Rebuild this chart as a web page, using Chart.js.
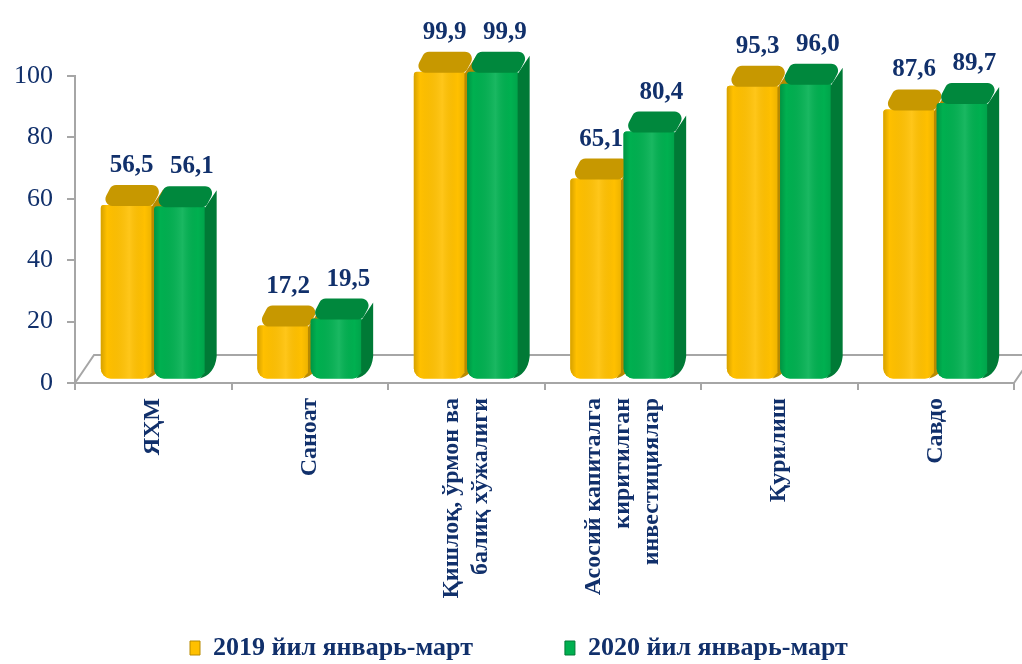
<!DOCTYPE html>
<html>
<head>
<meta charset="utf-8">
<script src="https://cdn.jsdelivr.net/npm/chart.js@4.4.1/dist/chart.umd.min.js"></script>
<style>
html,body{margin:0;padding:0;background:#ffffff;}
#wrap{width:1022px;height:664px;position:relative;}
</style>
</head>
<body>
<div id="wrap"><canvas id="c" width="1022" height="664"></canvas></div>
<script>
// ---- data ----
const categories = [
  ['ЯҲМ'],
  ['Саноат'],
  ['Қишлоқ, ўрмон ва', 'балиқ хўжалиги'],
  ['Асосий капиталга', 'киритилган', 'инвестициялар'],
  ['Қурилиш'],
  ['Савдо']
];
const seriesNames = ['2019 йил январь-март', '2020 йил январь-март'];
const values2019 = [56.5, 17.2, 99.9, 65.1, 95.3, 87.6];
const values2020 = [56.1, 19.5, 99.9, 80.4, 96.0, 89.7];
const yTicks = [0, 20, 40, 60, 80, 100];

// ---- styles ----
const NAVY = '#11306B';
const GRAY = '#A6A6A6';
const SERIF = "'Liberation Serif', 'Times New Roman', serif";
const DX = 11, DY = 20;
const styles = [
  {front: '#FFC000', cap: '#C79800', side: '#B88A00', labelDx: 5},
  {front: '#00B050', cap: '#00883D', side: '#007A36', labelDx: 12}
];
const fmt = v => v.toFixed(1).replace('.', ',');

function roundPoly(ctx, pts, rad) {
  const n = pts.length;
  const a = pts[n - 1], b = pts[0];
  ctx.beginPath();
  ctx.moveTo((a.x + b.x) / 2, (a.y + b.y) / 2);
  for (let i = 0; i < n; i++) {
    const p = pts[i], q = pts[(i + 1) % n];
    ctx.arcTo(p.x, p.y, q.x, q.y, rad);
  }
  ctx.closePath();
}

const floorPlugin = {
  id: 'floor3d',
  beforeDatasetsDraw(chart) {
    const a = chart.chartArea, ctx = chart.ctx;
    ctx.save();
    ctx.strokeStyle = GRAY;
    ctx.lineWidth = 2;
    ctx.beginPath();
    ctx.moveTo(a.left, a.bottom);
    ctx.lineTo(a.left + 19, a.bottom - 28);
    ctx.lineTo(a.right + 19, a.bottom - 28);
    ctx.lineTo(a.right, a.bottom);
    ctx.stroke();
    ctx.restore();
  }
};

const labelFixPlugin = {
  id: 'labelFix',
  beforeDraw(chart) {
    const sc = chart.scales.x;
    const items = sc.getLabelItems();
    if (items._patched) return;
    items.forEach(it => {
      const n = Array.isArray(it.label) ? it.label.length : 1;
      const lh = it.font.lineHeight;
      it.options.translation[0] -= (n - 1) * lh / 2;
    });
    items._patched = true;
  }
};

const legendPosPlugin = {
  id: 'legendPos',
  afterLayout(chart) {
    const lg = chart.legend;
    const pad = lg.options.labels.padding;
    lg.left = 190 - pad;
    lg.right = 1022;
    lg.top = 648 - pad - 13;
    lg.bottom = 664;
    lg.width = lg.right - lg.left;
    lg.height = lg.bottom - lg.top;
  }
};

const bars3dPlugin = {
  id: 'bars3d',
  afterDatasetsDraw(chart) {
    const ctx = chart.ctx;
    chart.data.datasets.forEach((ds, d) => {
      const meta = chart.getDatasetMeta(d);
      const st = styles[d];
      meta.data.forEach((el, i) => {
        const p = el.getProps(['x', 'y', 'base', 'width'], true);
        const l = p.x - p.width / 2, r = p.x + p.width / 2, t = p.y, b = p.base;
        ctx.save();
        // front face (library element) redrawn for correct overlap
        el.draw(ctx);
        // shading overlay on front face
        const g = ctx.createLinearGradient(l, 0, r, 0);
        g.addColorStop(0, 'rgba(0,0,0,0.16)');
        g.addColorStop(0.12, 'rgba(0,0,0,0)');
        g.addColorStop(0.55, 'rgba(255,255,255,0.10)');
        g.addColorStop(0.85, 'rgba(0,0,0,0)');
        g.addColorStop(1, 'rgba(0,0,0,0.08)');
        ctx.fillStyle = g;
        ctx.beginPath();
        ctx.roundRect(l, t, r - l, b - t, [3, 3, 10, 10]);
        ctx.fill();
        // right side face
        ctx.fillStyle = st.side;
        ctx.beginPath();
        ctx.moveTo(r - 1, t + 2);
        ctx.lineTo(r + DX, t - DY + 4);
        ctx.lineTo(r + DX, b - DY - 2);
        ctx.quadraticCurveTo(r + DX - 2, b - 4, r - 6, b);
        ctx.lineTo(r - 1, b - 6);
        ctx.closePath();
        ctx.fill();
        // top cap
        ctx.fillStyle = st.cap;
        roundPoly(ctx, [
          {x: l, y: t + 1},
          {x: l + DX, y: t - DY},
          {x: r + DX, y: t - DY},
          {x: r, y: t + 1}
        ], 7);
        ctx.fill();
        ctx.restore();
      });
    });
    // value labels
    ctx.save();
    ctx.font = 'bold 25px ' + SERIF;
    ctx.fillStyle = NAVY;
    ctx.textAlign = 'center';
    ctx.textBaseline = 'alphabetic';
    chart.data.datasets.forEach((ds, d) => {
      const meta = chart.getDatasetMeta(d);
      meta.data.forEach((el, i) => {
        const p = el.getProps(['x', 'y'], true);
        ctx.fillText(fmt(ds.data[i]), p.x + styles[d].labelDx, p.y - DY - 13);
      });
    });
    ctx.restore();
  }
};

Chart.defaults.font.family = SERIF;

new Chart(document.getElementById('c'), {
  type: 'bar',
  data: {
    labels: categories,
    datasets: [
      {label: seriesNames[0], data: values2019, backgroundColor: styles[0].front, borderWidth: 0,
       borderSkipped: false, borderRadius: {topLeft: 3, topRight: 3, bottomLeft: 10, bottomRight: 10}, yAxisID: 'y2'},
      {label: seriesNames[1], data: values2020, backgroundColor: styles[1].front, borderWidth: 0,
       borderSkipped: false, borderRadius: {topLeft: 3, topRight: 3, bottomLeft: 10, bottomRight: 10}, yAxisID: 'y2'}
    ]
  },
  options: {
    responsive: false,
    animation: false,
    devicePixelRatio: 1,
    categoryPercentage: 0.68,
    barPercentage: 0.97,
    layout: {padding: {top: 76, right: 8, left: 0, bottom: 0}},
    scales: {
      x: {
        type: 'category',
        offset: true,
        grid: {display: true, drawOnChartArea: false, drawTicks: true, tickLength: 7, color: GRAY, lineWidth: 2, offset: true},
        border: {display: true, color: GRAY, width: 2},
        ticks: {minRotation: 90, maxRotation: 90, autoSkip: false, padding: 8, color: NAVY,
                font: {family: SERIF, size: 24, weight: 'bold', lineHeight: 1.22}},
        afterFit(s) { s.height = 241; }
      },
      y: {
        position: 'left',
        min: 0, max: 100,
        afterBuildTicks(s) { s.ticks = yTicks.map(v => ({value: v})); },
        grid: {display: true, drawOnChartArea: false, drawTicks: true, tickLength: 8, color: GRAY, lineWidth: 2},
        border: {display: true, color: GRAY, width: 2},
        ticks: {color: NAVY, padding: 14, font: {family: SERIF, size: 26}},
        afterFit(s) { s.width = 75; }
      },
      y2: {display: false, min: -1.5, max: 98.5}
    },
    plugins: {
      tooltip: {enabled: false},
      legend: {
        position: 'bottom',
        align: 'start',
        maxHeight: 40,
        labels: {
          boxWidth: 10, boxHeight: 14, padding: 92, color: NAVY,
          font: {family: SERIF, size: 26, weight: 'bold'},
          sort: (a, b) => a.datasetIndex - b.datasetIndex,
          generateLabels(chart) {
            const items = Chart.defaults.plugins.legend.labels.generateLabels(chart);
            items.forEach(it => {
              const st = styles[it.datasetIndex];
              it.fillStyle = st.front; it.strokeStyle = st.side; it.lineWidth = 1;
            });
            return items;
          }
        }
      }
    }
  },
  plugins: [floorPlugin, labelFixPlugin, legendPosPlugin, bars3dPlugin]
});
</script>
</body>
</html>
